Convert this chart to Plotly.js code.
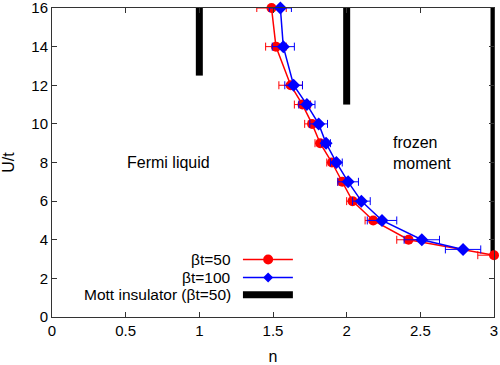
<!DOCTYPE html>
<html>
<head>
<meta charset="utf-8">
<script src="https://cdn.plot.ly/plotly-3.0.1.min.js"></script>
<style>html,body{margin:0;padding:0;background:#fff;}#chart{width:500px;height:365px;}</style>
</head>
<body>
<div id="chart"></div>
<script>
// beta t = 50 (red circles)
const u50 = [16, 14, 12, 11, 10, 9, 8, 7, 6, 5, 4, 3.2];
const n50 = [1.49, 1.52, 1.62, 1.70, 1.765, 1.82, 1.90, 1.97, 2.04, 2.18, 2.42, 3.0];
const e50 = [0.10, 0.07, 0.08, 0.055, 0.05, 0.035, 0.035, 0.03, 0.04, 0.055, 0.08, 0.11];
// beta t = 100 (blue diamonds)
const u100 = [16, 14, 12, 11, 10, 9, 8, 7, 6, 5, 4, 3.5];
const n100 = [1.55, 1.57, 1.64, 1.73, 1.81, 1.86, 1.93, 2.01, 2.10, 2.24, 2.51, 2.79];
const e100 = [0.075, 0.075, 0.06, 0.055, 0.06, 0.03, 0.04, 0.07, 0.06, 0.10, 0.12, 0.12];
// Mott insulator (beta t = 50) vertical bars
const mottN = [1, 2, 3];
const mottLow = [12.5, 11, 3.2];
const mottHigh = [16, 16, 16];

const xTicks = [0, 0.5, 1, 1.5, 2, 2.5, 3];
const xTickText = ["0", "0.5", "1", "1.5", "2", "2.5", "3"];
const yTicks = [0, 2, 4, 6, 8, 10, 12, 14, 16];

const FONT = "Liberation Sans, Arial, Helvetica, sans-serif";

const traces = [];
mottN.forEach((n, i) => {
  traces.push({
    x: [n, n], y: [mottLow[i], mottHigh[i]],
    mode: "lines", line: {color: "#000", width: 7},
    cliponaxis: false, showlegend: false, hoverinfo: "skip"
  });
});
traces.push({
  x: n50, y: u50, mode: "lines+markers", name: "βt=50",
  line: {color: "#ff0000", width: 1.5},
  marker: {color: "#ff0000", symbol: "circle", size: 10},
  error_x: {type: "data", array: e50, visible: true, color: "#ff0000", thickness: 1, width: 4},
  cliponaxis: false, showlegend: false
});
traces.push({
  x: n100, y: u100, mode: "lines+markers", name: "βt=100",
  line: {color: "#0000ff", width: 1.5},
  marker: {color: "#0000ff", symbol: "diamond", size: 10},
  error_x: {type: "data", array: e100, visible: true, color: "#0000ff", thickness: 1, width: 4},
  cliponaxis: false, showlegend: false
});

// custom gnuplot-style legend (text left, sample right)
const legText = ["βt=50", "βt=100", "Mott insulator (βt=50)"];
const legY = [0.186, 0.128, 0.072];
const legTextX = 0.407, legX0 = 0.432, legX1 = 0.545, legXm = 0.489;
const annotations = legText.map((t, i) => ({
  xref: "paper", yref: "paper", x: legTextX, y: legY[i], text: t,
  xanchor: "right", yanchor: "middle", showarrow: false, borderpad: 0,
  font: {family: FONT, size: 15.5, color: "#000"}
}));
annotations.push({
  xref: "x", yref: "y", x: 0.79, y: 8.0, text: "Fermi liquid", showarrow: false,
  xanchor: "center", yanchor: "middle", font: {family: FONT, size: 16, color: "#000"}
});
annotations.push({
  xref: "x", yref: "y", x: 2.30, y: 8.5, text: "frozen<br>moment", showarrow: false,
  xanchor: "left", yanchor: "middle", align: "left", font: {family: FONT, size: 16, color: "#000"}
});

const legColors = ["#ff0000", "#0000ff", "#000000"];
const legWidths = [1.5, 1.5, 7];
const shapes = legY.map((y, i) => ({
  type: "line", xref: "paper", yref: "paper", x0: legX0, x1: legX1, y0: y, y1: y,
  line: {color: legColors[i], width: legWidths[i]}
}));
shapes.push({
  type: "circle", xref: "paper", yref: "paper", xsizemode: "pixel", ysizemode: "pixel",
  xanchor: legXm, yanchor: legY[0], x0: -5, x1: 5, y0: -5, y1: 5,
  fillcolor: "#ff0000", line: {width: 0}
});
shapes.push({
  type: "path", xref: "paper", yref: "paper", xsizemode: "pixel", ysizemode: "pixel",
  xanchor: legXm, yanchor: legY[1], path: "M -5 0 L 0 5 L 5 0 L 0 -5 Z",
  fillcolor: "#0000ff", line: {width: 0}
});

const axisCommon = {
  showgrid: false, zeroline: false, showline: true, linecolor: "#333", linewidth: 1,
  mirror: "ticks", ticks: "inside", ticklen: 5, tickcolor: "#333",
  ticklabeloverflow: "allow",
  tickfont: {family: FONT, size: 15, color: "#000"}
};

const layout = {
  width: 500, height: 365,
  margin: {l: 52, r: 6, t: 8, b: 48},
  paper_bgcolor: "#fff", plot_bgcolor: "#fff",
  showlegend: false,
  xaxis: Object.assign({}, axisCommon, {
    range: [0, 3], tickvals: xTicks, ticktext: xTickText,
    title: {text: "n", font: {family: FONT, size: 16, color: "#000"}, standoff: 14}
  }),
  yaxis: Object.assign({}, axisCommon, {
    range: [0, 16], tickvals: yTicks,
    title: {text: "U/t", font: {family: FONT, size: 16, color: "#000"}, standoff: 16}
  }),
  annotations: annotations,
  shapes: shapes
};

Plotly.newPlot("chart", traces, layout, {displayModeBar: false, staticPlot: true});
</script>
</body>
</html>
